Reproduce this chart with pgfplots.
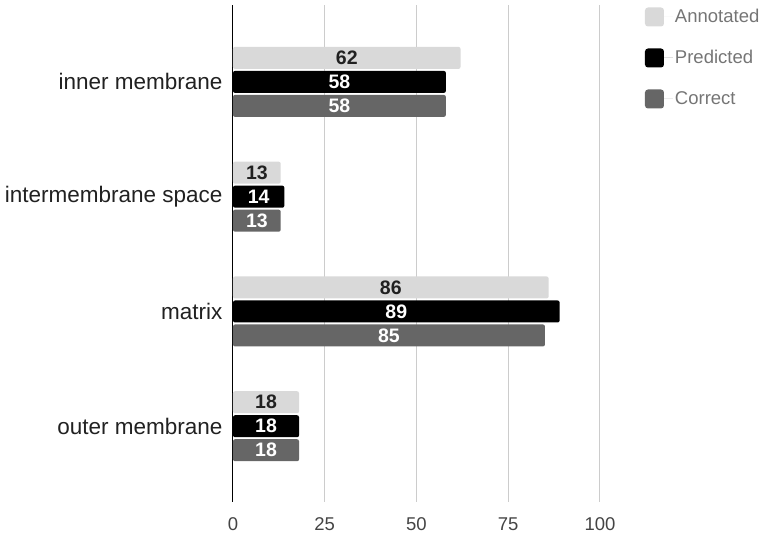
\documentclass[border=0pt]{standalone}
\usepackage{pgfplots}
\pgfplotsset{compat=1.18}
\usepackage{fontspec}
\setmainfont{Liberation Sans}
\definecolor{annot}{HTML}{D9D9D9}
\definecolor{corr}{HTML}{666666}
\definecolor{gridc}{HTML}{CCCCCC}
\definecolor{lbl}{HTML}{212121}
\definecolor{tkl}{HTML}{444444}
\definecolor{lgt}{HTML}{757575}
\begin{document}
\begin{tikzpicture}
\begin{axis}[
  at={(0,0)}, anchor=south west,
  scale only axis, width=367pt, height=497pt,
  xbar, bar width=22pt,
  xmin=0, xmax=100, ymin=-0.67, ymax=3.66, y dir=reverse,
  ytick={0,1,2,3},
  yticklabels={inner membrane, intermembrane space, matrix, outer membrane},
  xtick={25,50,75,100},
  extra x ticks={0},
  extra x tick style={grid style={black, line width=1pt}},
  xmajorgrids, grid style={gridc, line width=1pt},
  axis line style={draw=none},
  major tick length=0pt,
  tick style={draw=none},
  /pgf/number format/assume math mode=true,
  xticklabel style={font=\fontsize{18.5}{18.5}\selectfont, text=tkl, anchor=north, yshift=-12pt},
  yticklabel style={font=\fontsize{22.5}{22.5}\selectfont, text=lbl, anchor=east, xshift=-7pt},
  legend style={at={(1.1226,0.995)}, anchor=north west, draw=none, fill=none,
    inner sep=0pt, outer sep=0pt, font=\fontsize{18.5}{18.5}\selectfont, text=lgt,
    row sep=22pt, legend cell align=left},
  legend image code/.code={\fill[rounded corners=3pt] (0pt,-9.5pt) rectangle (19pt,9.5pt);
    \path (0pt,0pt) -- (28pt,0pt);},
  nodes near coords,
  visualization depends on={rawx \as \rawx},
  every node near coord/.append style={anchor=center, xshift={-\rawx*1.835pt},
    font=\fontsize{19.5}{19.5}\selectfont\bfseries},
]
\addplot[fill=annot, draw=none, rounded corners=2pt, bar shift=24pt,
  every node near coord/.append style={text=lbl}]
  coordinates {(62,0) (13,1) (86,2) (18,3)};
\addlegendentry{Annotated}
\addplot[fill=black, draw=none, rounded corners=2pt, bar shift=0pt,
  every node near coord/.append style={text=white}]
  coordinates {(58,0) (14,1) (89,2) (18,3)};
\addlegendentry{Predicted}
\addplot[fill=corr, draw=none, rounded corners=2pt, bar shift=-24pt,
  every node near coord/.append style={text=white}]
  coordinates {(58,0) (13,1) (85,2) (18,3)};
\addlegendentry{Correct}
\end{axis}
\pgfresetboundingbox
\path (-233pt,-33pt) rectangle (539pt,502pt);
\end{tikzpicture}
\end{document}
